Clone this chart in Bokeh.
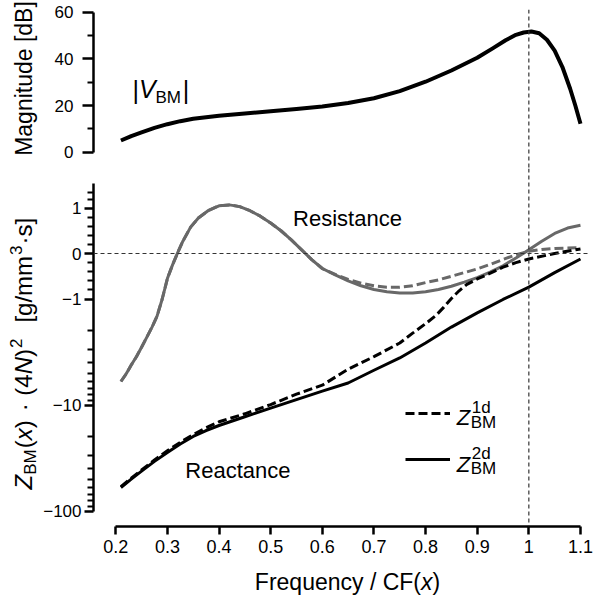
import numpy as np
from math import pi
from bokeh.plotting import figure
from bokeh.layouts import column, row
from bokeh.models import (Range1d, FixedTicker, CustomJSTickFormatter, Span, Label,
                          Legend, LegendItem)
from bokeh.embed import file_html
from bokeh.resources import INLINE

# ------------------------------------------------------------------ data
freq_v = [0.21, 0.23, 0.25, 0.275, 0.30, 0.325, 0.35, 0.375, 0.40, 0.45, 0.50, 0.55,
          0.60, 0.65, 0.70, 0.75, 0.80, 0.85, 0.90, 0.93, 0.955, 0.975, 0.99, 1.005,
          1.02, 1.035, 1.05, 1.065, 1.08, 1.09, 1.10]
v_bm_db = [5.0, 6.9, 8.5, 10.4, 12.0, 13.3, 14.3, 15.0, 15.6, 16.6, 17.5, 18.5,
           19.6, 21.1, 23.1, 26.2, 30.2, 35.0, 40.5, 44.5, 48.0, 50.3, 51.3, 51.7,
           51.0, 48.2, 43.5, 36.5, 27.2, 20.0, 12.2]

freq_r2d = [0.21, 0.22, 0.23, 0.24, 0.25, 0.26, 0.27, 0.28, 0.29, 0.30, 0.31, 0.32,
            0.33, 0.345, 0.36, 0.38, 0.40, 0.42, 0.44, 0.46, 0.48, 0.50, 0.52, 0.54,
            0.56, 0.58, 0.60, 0.625, 0.65, 0.675, 0.70, 0.725, 0.75, 0.775, 0.80,
            0.825, 0.85, 0.875, 0.90, 0.925, 0.95, 0.975, 1.00, 1.025, 1.05, 1.075, 1.10]
r_2d = [-6.0, -5.1, -4.2, -3.5, -2.85, -2.3, -1.85, -1.45, -1.0, -0.55, -0.25, 0.02,
        0.27, 0.58, 0.78, 0.95, 1.05, 1.07, 1.03, 0.94, 0.82, 0.67, 0.50, 0.30,
        0.08, -0.14, -0.33, -0.47, -0.60, -0.71, -0.79, -0.84, -0.87, -0.87, -0.84,
        -0.79, -0.72, -0.63, -0.53, -0.41, -0.27, -0.10, 0.08, 0.27, 0.44, 0.56, 0.62]

freq_r1d = [0.21, 0.22, 0.23, 0.24, 0.25, 0.26, 0.27, 0.28, 0.29, 0.30, 0.31, 0.32,
            0.33, 0.345, 0.36, 0.38, 0.40, 0.42, 0.44, 0.46, 0.48, 0.50, 0.52, 0.54,
            0.56, 0.58, 0.60, 0.625, 0.65, 0.675, 0.70, 0.725, 0.75, 0.775, 0.80,
            0.825, 0.85, 0.875, 0.90, 0.925, 0.95, 0.975, 1.00, 1.025, 1.05, 1.075, 1.10]
r_1d = [-6.0, -5.1, -4.2, -3.5, -2.85, -2.3, -1.85, -1.45, -1.0, -0.55, -0.25, 0.02,
        0.27, 0.58, 0.78, 0.95, 1.05, 1.07, 1.03, 0.94, 0.82, 0.67, 0.50, 0.30,
        0.08, -0.14, -0.33, -0.46, -0.57, -0.65, -0.71, -0.74, -0.74, -0.71, -0.64,
        -0.58, -0.50, -0.42, -0.34, -0.24, -0.13, -0.03, 0.05, 0.09, 0.11, 0.12, 0.13]

freq_x1d = [0.21, 0.23, 0.25, 0.275, 0.30, 0.325, 0.35, 0.375, 0.40, 0.45, 0.50, 0.55,
            0.60, 0.65, 0.70, 0.75, 0.775, 0.80, 0.82, 0.835, 0.85, 0.865, 0.88, 0.90,
            0.92, 0.95, 0.975, 1.00, 1.05, 1.10]
x_1d = [-59.0, -49.0, -41.0, -33.0, -27.0, -22.5, -19.0, -16.4, -14.4, -12.1, -9.9, -7.9,
        -6.5, -4.6, -3.5, -2.6, -2.1, -1.71, -1.43, -1.2, -0.99, -0.82, -0.68, -0.56,
        -0.46, -0.30, -0.20, -0.12, 0.0, 0.10]

freq_x2d = [0.21, 0.23, 0.25, 0.275, 0.30, 0.325, 0.35, 0.375, 0.40, 0.45, 0.50, 0.55,
            0.60, 0.65, 0.70, 0.75, 0.80, 0.85, 0.90, 0.95, 1.00, 1.05, 1.10]
x_2d = [-60.0, -50.0, -42.0, -34.0, -28.0, -23.3, -19.8, -17.4, -15.6, -12.9, -10.7, -8.9,
        -7.4, -6.2, -4.7, -3.6, -2.6, -1.84, -1.35, -1.01, -0.74, -0.42, -0.12]

top_ticks = [0, 20, 40, 60]
top_minor = [10, 30, 50]
z_ticks = [1, 0, -1, -10, -100]
z_minor = [1.4, 1.2, 0.8, 0.6, 0.4, 0.2, -0.2, -0.4, -0.6, -0.8,
           -2, -3, -4, -5, -6, -7, -8, -9, -20, -30, -40, -50, -60, -70, -80, -90]
freq_ticks = [0.2, 0.3, 0.4, 0.5, 0.6, 0.7, 0.8, 0.9, 1.0, 1.1]

# ------------------------------------------------------------------ scales
DEC = 2.33  # linear-region units per decade (symmetric log axis)


def symlog(v):
    v = np.asarray(v, dtype=float)
    a = np.abs(v)
    return np.where(a <= 1, v, np.sign(v) * (1 + DEC * np.log10(np.maximum(a, 1e-12))))


PX0, PXS = 114.3, 517.4          # pixel of f=0.2, pixels per unit frequency


def fx(px):
    return 0.2 + (px - PX0) / PXS


def m1(py):
    return (151.7 - py) / (140.0 / 60.0)


def m2(py):
    return (253.0 - py) / 45.5


def ident(v):
    return v


FONT = "Liberation Sans"
GRAY = "#686868"
WL = 40            # width of left title strip
HB = 34            # height of bottom title strip
KB = 0.36          # baseline -> middle offset (fraction of font size)

W = {' ': 278, '·': 278, 'Z': 611, 'B': 667, 'M': 833, '(': 333, ')': 333, 'x': 500,
     '4': 556, 'N': 722, '2': 556, '[': 278, ']': 278, 'g': 556, '/': 278, 'm': 833,
     '3': 556, 's': 500, 'V': 667, '|': 260, 'F': 611, 'r': 333, 'e': 556, 'q': 556,
     'u': 556, 'n': 556, 'c': 500, 'y': 500, 'C': 722}


def tw(s, size):
    return sum(W.get(ch, 556) for ch in s) * size / 1000.0


def style_axis(ax, tick_out=9, size="17px", standoff=5):
    ax.axis_line_width = 2.5
    ax.axis_line_color = "black"
    ax.major_tick_line_width = 2.5
    ax.major_tick_line_color = "black"
    ax.major_tick_in = 0
    ax.major_tick_out = tick_out
    ax.minor_tick_line_width = 2
    ax.minor_tick_line_color = "black"
    ax.minor_tick_in = 0
    ax.minor_tick_out = 6
    ax.major_label_text_font = FONT
    ax.major_label_text_font_size = size
    ax.major_label_text_color = "black"
    ax.major_label_standoff = standoff


def base(fig):
    fig.outline_line_color = None
    fig.xgrid.visible = False
    fig.ygrid.visible = False
    fig.background_fill_color = "white"
    fig.border_fill_color = "white"


def lab(fig, mapx, mapy, px, py, text, size, italic=False, angle=0.0, align="left"):
    """px, py: pixel position of the text start on its baseline."""
    if angle == 0.0:
        py = py - KB * size
    else:
        px = px - KB * size
    fig.add_layout(Label(x=mapx(px), y=mapy(py), text=text, angle=angle,
                         text_font=FONT, text_font_size=f"{size}px",
                         text_font_style="italic" if italic else "normal",
                         text_color="black", text_align=align,
                         text_baseline="middle"))


# ------------------------------------------------------------------ top panel
xr = Range1d(fx(92), fx(590))
p1 = figure(width=606 - WL, height=168, x_range=xr, y_range=Range1d(m1(168), m1(9)),
            x_axis_location=None, title=None, toolbar_location=None,
            output_backend="svg", min_border_left=92 - WL, min_border_right=16,
            min_border_top=9, min_border_bottom=0)
base(p1)
style_axis(p1.yaxis[0], tick_out=11, standoff=9)
p1.yaxis[0].bounds = (0, 60)
p1.yaxis[0].ticker = FixedTicker(ticks=top_ticks, minor_ticks=top_minor)

p1.line(freq_v, v_bm_db, line_width=4, line_color="black", line_join="round")
p1.add_layout(Span(location=1.0, dimension="height", line_color="#333333",
                   line_width=1.2, line_dash="4 3"))

# |V_BM|
lab(p1, fx, m1, 131, 98, "|", 25)
lab(p1, fx, m1, 137.5, 97, "V", 25, italic=True)
lab(p1, fx, m1, 154, 103, "BM", 17)
lab(p1, fx, m1, 181.5, 98, "|", 25)

# ------------------------------------------------------------------ lower panel
p2 = figure(width=606 - WL, height=398, x_range=xr, y_range=Range1d(m2(526), m2(168)),
            title=None, toolbar_location=None, output_backend="svg",
            min_border_left=92 - WL, min_border_right=16, min_border_top=0,
            min_border_bottom=40)
base(p2)
style_axis(p2.yaxis[0], standoff=3)
p2.yaxis[0].bounds = (float(symlog(-100)), 1.53)
p2.yaxis[0].ticker = FixedTicker(ticks=[float(t) for t in symlog(z_ticks)],
                                 minor_ticks=[float(t) for t in symlog(z_minor)])
p2.yaxis[0].formatter = CustomJSTickFormatter(args=dict(D=DEC), code="""
const a = Math.abs(tick);
let v;
if (a <= 1.0001) { v = Math.round(a); } else { v = Math.round(Math.pow(10, (a - 1) / D)); }
if (v === 0) { return "0"; }
return (tick < 0 ? "\\u2212" : "") + v;
""")
style_axis(p2.xaxis[0], tick_out=8, size="18px")
p2.xaxis[0].bounds = (0.2, 1.1)
p2.xaxis[0].ticker = FixedTicker(ticks=freq_ticks, minor_ticks=[])
p2.xaxis[0].formatter = CustomJSTickFormatter(code="return String(Number(tick.toFixed(1)));")

p2.add_layout(Span(location=0.0, dimension="width", line_color="#333333",
                   line_width=1.2, line_dash="4 3"))
p2.add_layout(Span(location=1.0, dimension="height", line_color="#333333",
                   line_width=1.2, line_dash="4 3"))

p2.line(freq_r2d, symlog(r_2d), line_color=GRAY, line_width=3, line_join="round")
p2.line(freq_r1d, symlog(r_1d), line_color=GRAY, line_width=3, line_dash="9 4")
rx1 = p2.line(freq_x1d, symlog(x_1d), line_color="black", line_width=3, line_dash="9 4")
rx2 = p2.line(freq_x2d, symlog(x_2d), line_color="black", line_width=3, line_join="round")

leg = Legend(items=[LegendItem(label=" ", renderers=[rx1]),
                    LegendItem(label=" ", renderers=[rx2])],
             location=(312, 57), orientation="vertical", glyph_width=45,
             glyph_height=20, label_width=1, label_height=20, spacing=26,
             padding=0, margin=0, border_line_color=None, background_fill_alpha=0,
             label_standoff=0, label_text_font_size="1px")
p2.add_layout(leg)

for base_y, sup in ((412.7, "1d"), (459.0, "2d")):
    lab(p2, fx, m2, 456, base_y + 12.5, "Z", 22, italic=True)
    lab(p2, fx, m2, 471, base_y + 0.5, sup, 17)
    lab(p2, fx, m2, 470, base_y + 15.5, "BM", 17)

lab(p2, fx, m2, 292, 226, "Resistance", 22)
lab(p2, fx, m2, 184, 478, "Reactance", 22)

# ------------------------------------------------------------------ left title strip
pl = figure(width=WL, height=600 - HB, x_range=Range1d(0, WL),
            y_range=Range1d(600 - HB, 0), x_axis_location=None, y_axis_location=None,
            title=None, toolbar_location=None, output_backend="svg",
            min_border=0, min_border_left=0, min_border_right=0, min_border_top=0,
            min_border_bottom=0)
base(pl)
lab(pl, ident, ident, 32, 78, "Magnitude [dB]", 23, angle=pi / 2, align="center")

pieces = [("Z", 24, True, 0, 0), ("BM", 17, False, 4, 0), ("(", 24, False, 0, 1),
          ("x", 24, True, 0, 0), (")", 24, False, 0, 0), ("·", 24, False, 0, 9),
          ("(4", 24, False, 0, 9), ("N", 24, True, 0, 0), (")", 24, False, 0, 0),
          ("2", 17, False, -10, 1), ("[g/mm", 24, False, 0, 16),
          ("3", 17, False, -10, 1), ("·s]", 24, False, 0, 1)]
ypos = 489.0
XB = 32.0
for s, size, it, shift, gap in pieces:
    ypos -= gap
    lab(pl, ident, ident, XB + shift, ypos, s, size, italic=it, angle=pi / 2)
    ypos -= tw(s, size)

# ------------------------------------------------------------------ bottom title strip
pb = figure(width=606, height=HB, x_range=Range1d(0, 606), y_range=Range1d(HB, 0),
            x_axis_location=None, y_axis_location=None, title=None,
            toolbar_location=None, output_backend="svg", min_border=0,
            min_border_left=0, min_border_right=0, min_border_top=0, min_border_bottom=0)
base(pb)
xt = [("Frequency / CF(", False), ("x", True), (")", False)]
total = sum(tw(s, 23) for s, _ in xt)
cx = 347 - total / 2
for s, it in xt:
    lab(pb, ident, ident, cx, 590 - (600 - HB), s, 23, italic=it)
    cx += tw(s, 23)

layout = column(row(pl, column(p1, p2, spacing=0), spacing=0), pb, spacing=0)
open("out.html", "w").write(file_html(layout, INLINE))
